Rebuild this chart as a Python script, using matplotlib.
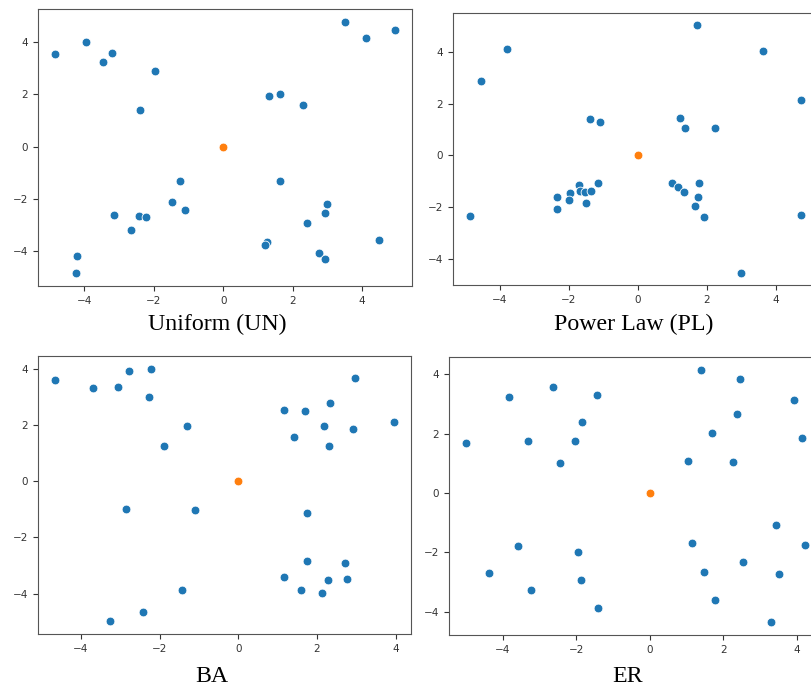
import numpy as np
import matplotlib
matplotlib.use("Agg")
import matplotlib.pyplot as plt

# node positions around the centre node (orange), one panel per graph model
un_x = [-4.85, -3.96, -3.46, -3.20, -1.96, -2.41, 3.50, 4.11, 4.95, 1.31, 1.64, 2.31,
        -1.24, 1.64, -1.47, -1.11, -3.16, -2.44, -2.24, -2.65, -4.22, -4.25,
        3.00, 2.93, 2.41, 1.27, 1.20, 4.50, 2.76, 2.93]
un_y = [3.56, 3.99, 3.24, 3.58, 2.90, 1.42, 4.79, 4.15, 4.47, 1.94, 2.03, 1.60,
        -1.30, -1.30, -2.10, -2.41, -2.62, -2.67, -2.69, -3.19, -4.17, -4.85,
        -2.18, -2.54, -2.93, -3.66, -3.75, -3.59, -4.05, -4.28]

pl_x = [1.71, -3.80, 3.63, -4.55, 4.74, -1.39, -1.08, 1.22, 1.37, 2.25,
        -1.14, -1.70, -1.68, -1.54, -1.34, -1.97, -2.34, -2.00, -1.49, -2.34, -4.87,
        1.00, 1.18, 1.33, 1.77, 1.75, 1.67, 1.93, 4.74, 2.98]
pl_y = [5.01, 4.10, 4.02, 2.86, 2.13, 1.42, 1.28, 1.44, 1.05, 1.07,
        -1.07, -1.14, -1.35, -1.39, -1.35, -1.44, -1.58, -1.70, -1.81, -2.07, -2.32,
        -1.07, -1.23, -1.42, -1.07, -1.58, -1.95, -2.35, -2.30, -4.51]

ba_x = [-4.66, -3.69, -3.06, -2.79, -2.21, -2.27, -1.30, -1.89, -2.85, -1.10,
        -1.43, -2.42, -3.25, 2.97, 1.15, 1.70, 2.32, 2.19, 2.92, 3.95, 1.42, 2.30,
        1.75, 1.75, 2.71, 1.17, 2.28, 2.76, 1.59, 2.13]
ba_y = [3.59, 3.31, 3.37, 3.91, 4.01, 2.99, 1.98, 1.25, -0.99, -1.02,
        -3.89, -4.64, -4.99, 3.69, 2.52, 2.49, 2.80, 1.95, 1.87, 2.11, 1.57, 1.25,
        -1.12, -2.85, -2.90, -3.41, -3.51, -3.49, -3.89, -3.98]

er_x = [-5.00, -3.82, -2.62, -1.43, -1.84, -3.31, -2.03, -2.44, 1.41, 2.47, 3.92,
        2.38, 1.70, 4.14, 1.05, 2.26, 3.45, 1.15, 4.23, 2.55, 1.48, 3.53, 1.77, 3.30,
        -3.59, -4.37, -1.95, -1.87, -3.22, -1.41]
er_y = [1.68, 3.24, 3.58, 3.32, 2.40, 1.74, 1.74, 1.02, 4.16, 3.85, 3.14,
        2.66, 2.04, 1.85, 1.08, 1.04, -1.08, -1.70, -1.74, -2.32, -2.66, -2.73, -3.60, -4.36,
        -1.77, -2.68, -1.98, -2.94, -3.26, -3.88]

titles = ["Uniform (UN)", "Power Law (PL)", "BA", "ER"]

W, H = 812, 689
fig = plt.figure(figsize=(W / 100, H / 100), dpi=100)


def rect(left, right, top, bottom):
    return [left / W, 1 - bottom / H, (right - left) / W, (bottom - top) / H]


boxes = [rect(38, 412, 9, 286), rect(453, 818, 13, 285),
         rect(38, 410.6, 356, 634), rect(449, 822, 357, 635)]
caps = [(217, 324), (634, 324), (212, 676), (628, 676)]
panels = [(un_x, un_y), (pl_x, pl_y), (ba_x, ba_y), (er_x, er_y)]

for box, (xs, ys), title, (cx, cy) in zip(boxes, panels, titles, caps):
    ax = fig.add_axes(box)
    ax.scatter(xs, ys, s=40, color="#1f77b4", edgecolors="white", linewidths=0.6, zorder=3)
    ax.scatter([0], [0], s=40, color="#ff7f0e", edgecolors="white", linewidths=0.6, zorder=3)
    for sp in ax.spines.values():
        sp.set_color("#555555")
    ax.tick_params(labelsize=7.5, colors="#333333", length=3.5, width=0.8)
    fig.text(cx / W, 1 - cy / H, title, ha="center", va="center",
             family="Liberation Serif", fontsize=17.2, color="black")

fig.savefig("out.png", dpi=100)
